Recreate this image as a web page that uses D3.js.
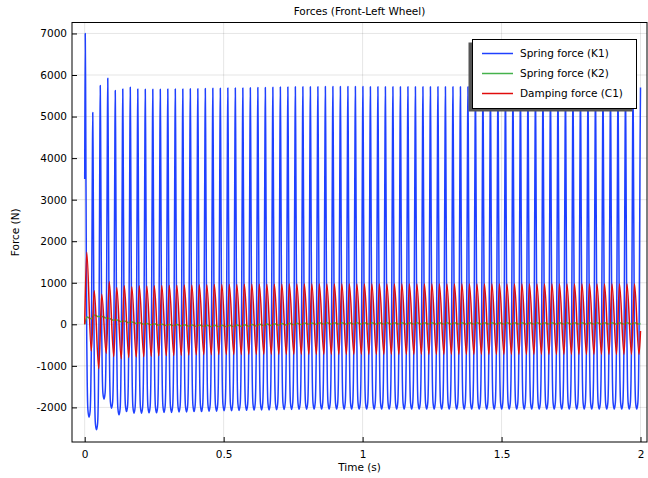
<!DOCTYPE html>
<html>
<head>
<meta charset="utf-8">
<script src="https://cdn.jsdelivr.net/npm/d3@7/dist/d3.min.js"></script>
<style>
body { margin: 0; background: #fff; }
text { font-family: "DejaVu Sans", sans-serif; }
</style>
</head>
<body>
<div id="chart"></div>
<script>
// cycle timing (one blue spike every 0.027 s)
var firstPeak = 0.002;
var period = 0.027;
var endTime = 2.0;

// Spring force (K1): one peak and one trough per cycle
var k1Start = 3500;
var k1Peaks = [7000, 5100, 5750, 5920, 5625, 5665, 5705, 5665, 5655, 5660,
               5660, 5665, 5665, 5665, 5670, 5670, 5675, 5680, 5680, 5685,
               5690, 5690, 5695, 5700, 5700, 5705, 5710, 5710, 5715, 5720,
               5720, 5720, 5725, 5725, 5725, 5725, 5725, 5725, 5720, 5720,
               5720, 5720, 5715, 5715, 5715, 5715, 5715, 5715, 5715, 5715,
               5715, 5715, 5715, 5715, 5715, 5715, 5715, 5715, 5715, 5715,
               5715, 5715, 5715, 5715, 5715, 5715, 5715, 5715, 5715, 5715,
               5715, 5715, 5715, 5715, 5700];
var k1Troughs = [-2235, -2540, -1800, -2020, -2180, -2100, -2140, -2140, -2130, -2130,
                 -2120, -2120, -2110, -2110, -2100, -2100, -2090, -2090, -2080, -2080,
                 -2075, -2070, -2065, -2060, -2060, -2055, -2050, -2050, -2045, -2045,
                 -2040, -2040, -2040, -2040, -2040, -2040, -2040, -2040, -2040, -2040,
                 -2040, -2040, -2040, -2040, -2040, -2040, -2040, -2040, -2040, -2040,
                 -2040, -2040, -2040, -2040, -2040, -2040, -2040, -2040, -2040, -2040,
                 -2040, -2040, -2040, -2040, -2040, -2040, -2040, -2040, -2040, -2040,
                 -2040, -2040, -2040, -2040];
// shape of one K1 cycle (fraction of period after peak, fraction of swing)
var k1ShapePhase = [0.05, 0.1, 0.15, 0.2, 0.27, 0.35, 0.5, 0.65, 0.73, 0.8, 0.85, 0.9, 0.95];
var k1ShapeLevel = [0.85, 0.6, 0.38, 0.2, 0.08, 0.02, 0, 0.02, 0.08, 0.2, 0.38, 0.6, 0.85];

// Spring force (K2): small ripple around a slow drift
var k2Start = 0, k2End = 20;
var k2Highs = [175, 225, 190, 140, 105, 80, 58, 38, 22, 12,
               4, -2, -6, -10, -14, -17, -20, -22, -22, -20,
               -16, -12, -6, 0, 6, 12, 18, 24, 28, 31,
               34, 35, 35, 35, 35, 35, 35, 35, 35, 35,
               35, 35, 35, 35, 35, 35, 35, 35, 35, 35,
               35, 35, 35, 35, 35, 35, 35, 35, 35, 35,
               35, 35, 35, 35, 35, 35, 35, 35, 35, 35,
               35, 35, 35, 35];
var k2Lows = [135, 185, 150, 100, 65, 40, 22, 2, -12, -22,
              -28, -34, -38, -42, -46, -49, -52, -54, -54, -52,
              -48, -44, -38, -32, -26, -20, -14, -8, -4, -1,
              2, 5, 5, 5, 5, 5, 5, 5, 5, 5,
              5, 5, 5, 5, 5, 5, 5, 5, 5, 5,
              5, 5, 5, 5, 5, 5, 5, 5, 5, 5,
              5, 5, 5, 5, 5, 5, 5, 5, 5, 5,
              5, 5, 5, 5];

// Damping force (C1)
var c1Start = 0, c1End = -160;
var c1Peaks = [1735, 806, 726, 1025, 888, 929, 904, 928, 920, 930,
               935, 940, 940, 945, 945, 950, 950, 955, 955, 960,
               960, 962, 965, 965, 965, 966, 966, 967, 967, 968,
               968, 968, 968, 968, 968, 968, 968, 968, 968, 968,
               968, 968, 968, 968, 968, 968, 968, 968, 968, 968,
               968, 968, 968, 968, 968, 968, 968, 968, 968, 968,
               968, 968, 968, 968, 968, 968, 968, 968, 968, 968,
               968, 968, 968, 968];
var c1Troughs = [-645, -1070, -700, -780, -830, -800, -790, -780, -770, -760,
                 -755, -750, -745, -740, -735, -732, -730, -728, -726, -725,
                 -724, -723, -722, -722, -722, -722, -722, -722, -722, -722,
                 -722, -722, -722, -722, -722, -722, -722, -722, -722, -722,
                 -722, -722, -722, -722, -722, -722, -722, -722, -722, -722,
                 -722, -722, -722, -722, -722, -722, -722, -722, -722, -722,
                 -722, -722, -722, -722, -722, -722, -722, -722, -722, -722,
                 -722, -722, -722, -722];

var xTicks = [0, 0.5, 1, 1.5, 2];
var yTicks = [-2000, -1000, 0, 1000, 2000, 3000, 4000, 5000, 6000, 7000];

var seriesNames = ["Spring force (K1)", "Spring force (K2)", "Damping force (C1)"];
var seriesColors = ["#1f40ff", "#45b24c", "#e00c0c"];

// build the point lists
function cycleTime(k) { return firstPeak + k * period; }

var k1Points = [[0, k1Start]];
for (var k = 0; k < k1Peaks.length; k++) {
	k1Points.push([cycleTime(k), k1Peaks[k]]);
	if (k < k1Troughs.length) {
		for (var j = 0; j < k1ShapePhase.length; j++) {
			var hi = k1ShapePhase[j] < 0.5 ? k1Peaks[k] : k1Peaks[k + 1];
			var lo = k1Troughs[k];
			k1Points.push([cycleTime(k) + k1ShapePhase[j] * period, lo + k1ShapeLevel[j] * (hi - lo)]);
		}
	}
}

var k2Points = [[0, k2Start]];
for (var k = 0; k < k2Highs.length; k++) {
	k2Points.push([cycleTime(k) + 0.25 * period, k2Highs[k]]);
	k2Points.push([cycleTime(k) + 0.75 * period, k2Lows[k]]);
}
k2Points.push([endTime, k2End]);

var c1Points = [[0, c1Start]];
for (var k = 0; k < c1Troughs.length; k++) {
	c1Points.push([cycleTime(k) + 0.2 * period, c1Peaks[k]]);
	c1Points.push([cycleTime(k) + 0.8 * period, c1Troughs[k]]);
}
c1Points.push([endTime, c1End]);

var allSeries = [k1Points, k2Points, c1Points];

var width = 648, height = 478;
var plotLeft = 72, plotRight = 647, plotTop = 22.5, plotBottom = 442;

var svg = d3.select("#chart").append("svg")
	.attr("width", width)
	.attr("height", height);

var x = d3.scaleLinear().domain([-0.0457, 2.0234]).range([plotLeft, plotRight]);
var y = d3.scaleLinear().domain([-2833, 7264]).range([plotBottom, plotTop]);

// grid
svg.append("g").selectAll("line").data(xTicks).enter().append("line")
	.attr("x1", function(d) { return x(d); }).attr("x2", function(d) { return x(d); })
	.attr("y1", plotTop).attr("y2", plotBottom)
	.attr("stroke", "#000").attr("stroke-opacity", 0.1).attr("stroke-width", 1);
svg.append("g").selectAll("line").data(yTicks).enter().append("line")
	.attr("y1", function(d) { return y(d); }).attr("y2", function(d) { return y(d); })
	.attr("x1", plotLeft).attr("x2", plotRight)
	.attr("stroke", "#000").attr("stroke-opacity", 0.1).attr("stroke-width", 1);

svg.append("clipPath").attr("id", "clip").append("rect")
	.attr("x", plotLeft).attr("y", plotTop)
	.attr("width", plotRight - plotLeft).attr("height", plotBottom - plotTop);

var line = d3.line()
	.x(function(d) { return x(d[0]); })
	.y(function(d) { return y(d[1]); })
	.curve(d3.curveMonotoneX);

svg.append("g").attr("clip-path", "url(#clip)")
	.selectAll("path").data(allSeries).enter().append("path")
	.attr("d", line)
	.attr("fill", "none")
	.attr("stroke", function(d, i) { return seriesColors[i]; })
	.attr("stroke-width", 1.5)
	.attr("stroke-linejoin", "round");

// axes: ticks drawn inward, labels outside
var xAxis = svg.append("g")
	.attr("transform", "translate(0," + plotBottom + ")")
	.call(d3.axisBottom(x).tickValues(xTicks).tickSize(-5).tickPadding(9)
		.tickFormat(function(d) { return String(d); }));
var yAxis = svg.append("g")
	.attr("transform", "translate(" + plotLeft + ",0)")
	.call(d3.axisLeft(y).tickValues(yTicks).tickSize(-5).tickPadding(5)
		.tickFormat(function(d) { return String(d); }));
[xAxis, yAxis].forEach(function(a) {
	a.select(".domain").remove();
	a.selectAll("text").attr("font-size", "10.5px").attr("fill", "#000")
		.attr("font-family", "DejaVu Sans, sans-serif");
	a.selectAll("line").attr("stroke", "#000");
});

// frame
svg.append("rect")
	.attr("x", plotLeft).attr("y", plotTop)
	.attr("width", plotRight - plotLeft).attr("height", plotBottom - plotTop)
	.attr("fill", "none").attr("stroke", "#000").attr("stroke-width", 1);

// titles
svg.append("text").attr("x", (plotLeft + plotRight) / 2).attr("y", 15)
	.attr("text-anchor", "middle").attr("font-size", "10.5px")
	.text("Forces (Front-Left Wheel)");
svg.append("text").attr("x", (plotLeft + plotRight) / 2).attr("y", 471)
	.attr("text-anchor", "middle").attr("font-size", "10.5px")
	.text("Time (s)");
svg.append("text")
	.attr("transform", "translate(19," + (plotTop + plotBottom) / 2 + ") rotate(-90)")
	.attr("text-anchor", "middle").attr("font-size", "10.5px")
	.text("Force (N)");

// legend
var legX = 472.5, legY = 39.5, legW = 164, legH = 69;
var legend = svg.append("g");
legend.append("rect")
	.attr("x", legX - 4).attr("y", legY + 3).attr("width", legW).attr("height", legH)
	.attr("fill", "#555");
legend.append("rect")
	.attr("x", legX).attr("y", legY).attr("width", legW).attr("height", legH)
	.attr("fill", "#fff").attr("stroke", "#000").attr("stroke-width", 1);
var rows = legend.selectAll("g.row").data(seriesNames).enter().append("g")
	.attr("class", "row")
	.attr("transform", function(d, i) { return "translate(0," + (legY + 14 + i * 20) + ")"; });
rows.append("line")
	.attr("x1", 482).attr("x2", 513)
	.attr("stroke", function(d, i) { return seriesColors[i]; })
	.attr("stroke-width", 1.5);
rows.append("text")
	.attr("x", 520).attr("dy", "0.35em").attr("font-size", "10.5px")
	.text(function(d) { return d; });
</script>
</body>
</html>
